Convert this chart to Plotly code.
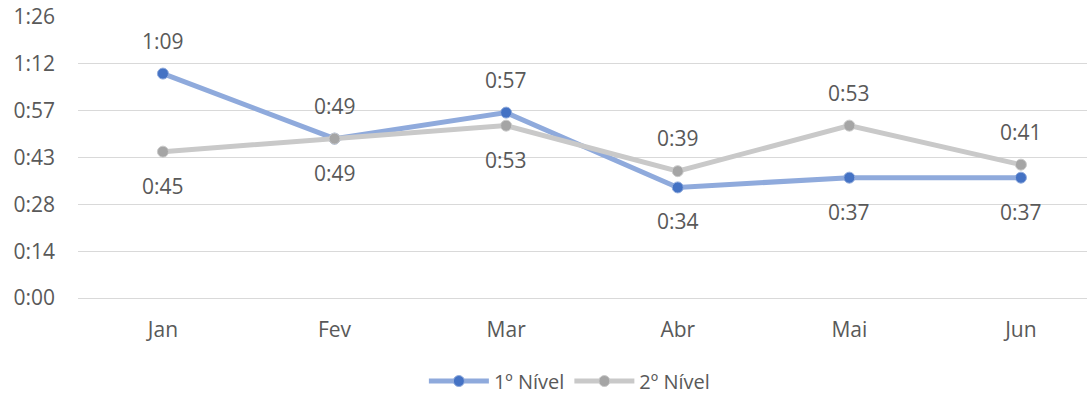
import plotly.graph_objects as go

months = ["Jan", "Fev", "Mar", "Abr", "Mai", "Jun"]
nivel1 = [69, 49, 57, 34, 37, 37]   # minutes
nivel2 = [45, 49, 53, 39, 53, 41]   # minutes
nivel1_label_side = ["above", "above", "above", "below", "below", "below"]
nivel2_label_side = ["below", "below", "below", "above", "above", "above"]
ytick_vals = [0, 14.4, 28.8, 43.2, 57.6, 72, 86.4]  # 0.01 day steps
ytick_text = ["0:00", "0:14", "0:28", "0:43", "0:57", "1:12", "1:26"]


def fmt(m):
    return f"{int(m)//60}:{int(m)%60:02d}"


FONT = "Open Sans, Noto Sans, sans-serif"
TXT = "#595959"

fig = go.Figure()
fig.add_trace(go.Scatter(
    x=months, y=nivel1, name="1º Nível", mode="lines+markers",
    line=dict(color="#8faadc", width=5),
    marker=dict(color="#4472c4", size=11, line=dict(color="#8faadc", width=1)),
))
fig.add_trace(go.Scatter(
    x=months, y=nivel2, name="2º Nível", mode="lines+markers",
    line=dict(color="#c9c9c9", width=5),
    marker=dict(color="#a5a5a5", size=11, line=dict(color="#c9c9c9", width=1)),
))

for vals, sides in ((nivel1, nivel1_label_side), (nivel2, nivel2_label_side)):
    for m, v, s in zip(months, vals, sides):
        fig.add_annotation(
            x=m, y=v, text=fmt(v), showarrow=False,
            yshift=33 if s == "above" else -34,
            font=dict(family=FONT, size=21, color=TXT),
        )

fig.update_layout(
    width=1087, height=395,
    margin=dict(l=78, r=0, t=17, b=97, autoexpand=False),
    paper_bgcolor="white", plot_bgcolor="white",
    font=dict(family=FONT, size=21, color=TXT),
    showlegend=True,
    legend=dict(orientation="h", x=0.487, xanchor="center",
                yref="container", y=0.0354, yanchor="middle",
                font=dict(family=FONT, size=20, color=TXT), itemwidth=60),
    xaxis=dict(
        type="category", range=[-0.495, 5.385], showgrid=False, zeroline=False,
        showline=False, ticks="", ticklabelstandoff=17,
        tickfont=dict(family=FONT, size=21, color=TXT),
    ),
    yaxis=dict(
        range=[0, 86.4], tickvals=ytick_vals, ticktext=ytick_text,
        showgrid=True, gridcolor="#d9d9d9", gridwidth=1,
        zeroline=True, zerolinecolor="#d9d9d9", zerolinewidth=1,
        showline=False, ticks="", ticklabelstandoff=22,
        tickfont=dict(family=FONT, size=21, color=TXT),
    ),
)

fig.write_html("out.html", config={"displayModeBar": False},
               post_script="document.body.style.margin='0';")
